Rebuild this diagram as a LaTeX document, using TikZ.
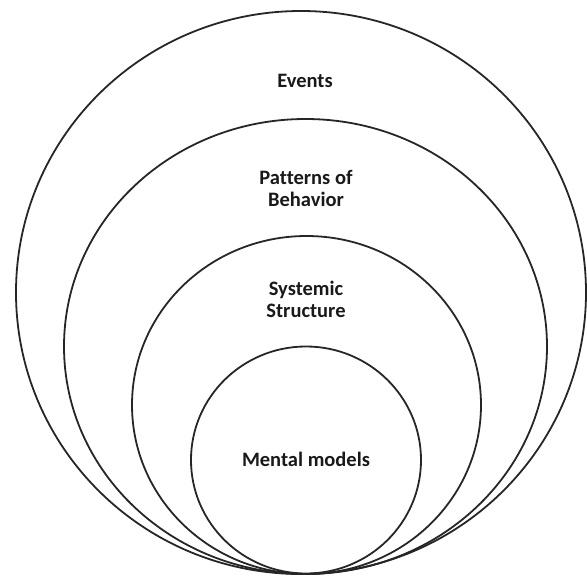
\documentclass[tikz,border=0pt]{standalone}
\usepackage{fontspec}
\setmainfont{Carlito}[Ligatures=NoCommon]
\begin{document}
\begin{tikzpicture}[x=1pt,y=-1pt,
  ring/.style={draw=black!85,line width=1.8pt},
  lbl/.style={font=\bfseries\fontsize{20.5}{22}\selectfont,text=black!90,align=center,inner sep=0pt}]
\useasboundingbox (0,0) rectangle (587,576);
\draw[ring] (301,292.5) ellipse [x radius=285,y radius=281.5];
\draw[ring] (305.5,346.5) ellipse [x radius=241.5,y radius=227.5];
\draw[ring] (306.5,405) ellipse [x radius=174.5,y radius=169];
\draw[ring] (306,460) ellipse [x radius=115,y radius=113.5];
\node[lbl] (events) at (305,81) {Events};
\node[lbl] (patterns) at (306,188) {Patterns of\\Behavior};
\node[lbl] (systemic) at (306,299) {Systemic\\Structure};
\node[lbl] (mental) at (306,459) {Mental models};
\end{tikzpicture}
\end{document}
